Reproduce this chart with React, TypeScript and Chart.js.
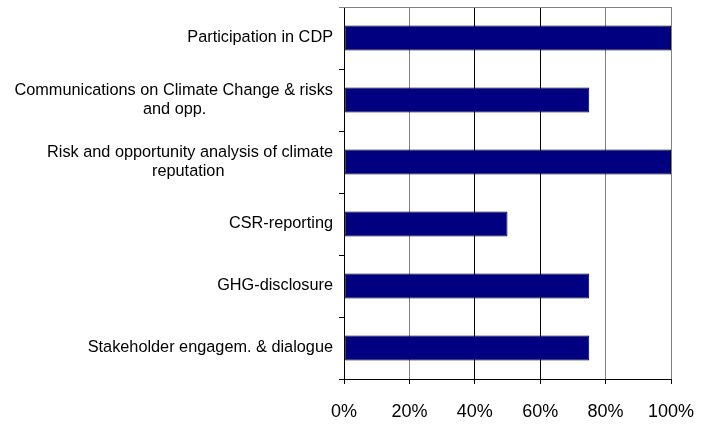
import React, { useEffect, useRef } from "react";
import { Chart, registerables } from "chart.js";

Chart.register(...registerables);

const categories: string[][] = [
  ["Participation in CDP"],
  ["Communications on Climate Change & risks", "and opp."],
  ["Risk and opportunity analysis of climate", "reputation"],
  ["CSR-reporting"],
  ["GHG-disclosure"],
  ["Stakeholder engagem. & dialogue"],
];
const values: number[] = [100, 75, 100, 50, 75, 75];
const xMin = 0;
const xMax = 100;
const xStep = 20;

const FONT_FAMILY = "'Liberation Sans', Arial, sans-serif";
const Y_FONT_SIZE = 16.3;

function centerLines(lines: string[]): string[] {
  if (lines.length < 2) return lines;
  const c = document.createElement("canvas").getContext("2d");
  if (!c) return lines;
  c.font = `${Y_FONT_SIZE}px ${FONT_FAMILY}`;
  const widths = lines.map((l) => c.measureText(l).width);
  const widest = Math.max(...widths);
  const sp = c.measureText(" ").width || 4;
  return lines.map((l, i) => l + " ".repeat(Math.max(0, Math.round((widest - widths[i]) / 2 / sp))));
}

const frameTop = {
  id: "frameTop",
  afterDatasetsDraw(chart: any) {
    const { ctx, chartArea } = chart;
    const y = Math.round(chartArea.top) + 0.5;
    ctx.save();
    ctx.strokeStyle = "#808080";
    ctx.lineWidth = 1;
    ctx.beginPath();
    ctx.moveTo(chartArea.left - 5, y);
    ctx.lineTo(chartArea.right, y);
    ctx.stroke();
    ctx.restore();
  },
};

export default function App() {
  const ref = useRef<HTMLCanvasElement | null>(null);

  useEffect(() => {
    if (!ref.current) return;
    const chart = new Chart(ref.current, {
      type: "bar",
      data: {
        labels: categories,
        datasets: [
          {
            data: values,
            backgroundColor: "#000080",
            borderColor: "#000000",
            borderWidth: 1,
            borderSkipped: false,
            barPercentage: 0.4,
            categoryPercentage: 1,
          },
        ],
      },
      options: {
        indexAxis: "y",
        responsive: false,
        animation: false,
        layout: { padding: { top: 7, right: 31, bottom: 0, left: 0 } },
        plugins: { legend: { display: false }, tooltip: { enabled: false } },
        scales: {
          x: {
            type: "linear",
            min: xMin,
            max: xMax,
            afterFit: (s: any) => {
              s.height = 46;
              s.paddingLeft = 0;
              s.paddingRight = 0;
            },
            ticks: {
              stepSize: xStep,
              padding: 17,
              color: "#000",
              font: { family: FONT_FAMILY, size: 18 },
              callback: (v: any) => `${v}%`,
            },
            grid: {
              color: (ctx: any) =>
                ctx.tick && (ctx.tick.value === 0 || ctx.tick.value === 40 || ctx.tick.value === 60)
                  ? "#000000"
                  : "#808080",
              tickColor: "#000000",
              tickLength: 5,
              lineWidth: 1,
            },
            border: { color: "#000000", width: 1 },
          },
          y: {
            type: "category",
            afterFit: (s: any) => {
              s.width = 344;
              s.paddingTop = 0;
              s.paddingBottom = 0;
            },
            ticks: {
              autoSkip: false,
              padding: 6,
              color: "#000",
              font: { family: FONT_FAMILY, size: Y_FONT_SIZE, lineHeight: 1.15 },
              callback: (_v: any, i: number) => centerLines(categories[i]),
            },
            grid: {
              drawOnChartArea: false,
              offset: true,
              color: "#000000",
              tickLength: 5,
            },
            border: { color: "#000000", width: 1 },
          },
        },
      },
      plugins: [frameTop],
    } as any);
    return () => chart.destroy();
  }, []);

  return (
    <div style={{ position: "absolute", left: 0, top: 0, width: 702, height: 425, background: "#fff" }}>
      <canvas ref={ref} width={702} height={425} />
    </div>
  );
}
